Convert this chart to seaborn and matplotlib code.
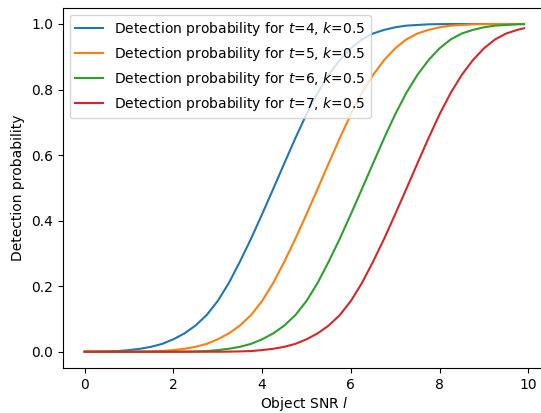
import matplotlib
matplotlib.use("Agg")
import matplotlib.pyplot as plt
import seaborn as sns

# Object SNR values (x axis)
snr = [0.0, 0.25, 0.5, 0.75, 1.0, 1.25, 1.5, 1.75, 2.0, 2.25,
       2.5, 2.75, 3.0, 3.25, 3.5, 3.75, 4.0, 4.25, 4.5, 4.75,
       5.0, 5.25, 5.5, 5.75, 6.0, 6.25, 6.5, 6.75, 7.0, 7.25,
       7.5, 7.75, 8.0, 8.25, 8.5, 8.75, 9.0, 9.25, 9.5, 9.75, 9.9]

# Detection probability, one list per threshold t
p_t4 = [0.0, 0.0003, 0.001, 0.002, 0.005, 0.009, 0.015, 0.024, 0.038, 0.056,
        0.080, 0.112, 0.155, 0.210, 0.275, 0.345, 0.420, 0.497, 0.575, 0.652,
        0.725, 0.790, 0.845, 0.890, 0.926, 0.953, 0.971, 0.982, 0.990, 0.995,
        0.997, 0.999, 0.9995, 0.9998, 0.9999, 1.0, 1.0, 1.0, 1.0, 1.0, 1.0]
p_t5 = [0.0, 0.0, 0.0, 0.0, 0.0, 0.0003, 0.001, 0.002, 0.005, 0.009,
        0.015, 0.024, 0.038, 0.056, 0.080, 0.112, 0.155, 0.210, 0.275, 0.345,
        0.420, 0.497, 0.575, 0.652, 0.725, 0.790, 0.845, 0.890, 0.926, 0.953,
        0.971, 0.982, 0.990, 0.995, 0.997, 0.999, 0.9995, 0.9998, 0.9999, 1.0, 1.0]
p_t6 = [0.0, 0.0, 0.0, 0.0, 0.0, 0.0, 0.0, 0.0, 0.0, 0.0003,
        0.001, 0.002, 0.005, 0.009, 0.015, 0.024, 0.038, 0.056, 0.080, 0.112,
        0.155, 0.210, 0.275, 0.345, 0.420, 0.497, 0.575, 0.652, 0.725, 0.790,
        0.845, 0.890, 0.926, 0.953, 0.971, 0.982, 0.990, 0.995, 0.997, 0.999, 0.9993]
p_t7 = [0.0, 0.0, 0.0, 0.0, 0.0, 0.0, 0.0, 0.0, 0.0, 0.0,
        0.0, 0.0, 0.0, 0.0003, 0.001, 0.002, 0.005, 0.009, 0.015, 0.024,
        0.038, 0.056, 0.080, 0.112, 0.155, 0.210, 0.275, 0.345, 0.420, 0.497,
        0.575, 0.652, 0.725, 0.790, 0.845, 0.890, 0.926, 0.953, 0.971, 0.982, 0.987]

thresholds = [4, 5, 6, 7]
k_value = 0.5
curves = [p_t4, p_t5, p_t6, p_t7]

fig = plt.figure(figsize=(5.41, 4.13), dpi=100)
ax = fig.add_axes([0.1159, 0.1087, 0.8932, 0.8729])
colors = sns.color_palette("tab10", 4)

for t, p, c in zip(thresholds, curves, colors):
    sns.lineplot(x=snr, y=p, ax=ax, color=c, linewidth=1.5,
                 label=f"Detection probability for $t$={t}, $k$={k_value}")

ax.set_xlabel("Object SNR $l$", labelpad=2.5)
ax.set_ylabel("Detection probability")
ax.set_xticks([0, 2, 4, 6, 8, 10])
ax.set_yticks([0.0, 0.2, 0.4, 0.6, 0.8, 1.0])
ax.set_xlim(-0.495, 10.395)
ax.set_ylim(-0.05, 1.05)
ax.legend(loc="upper left")

fig.savefig("out.png", dpi=100)
